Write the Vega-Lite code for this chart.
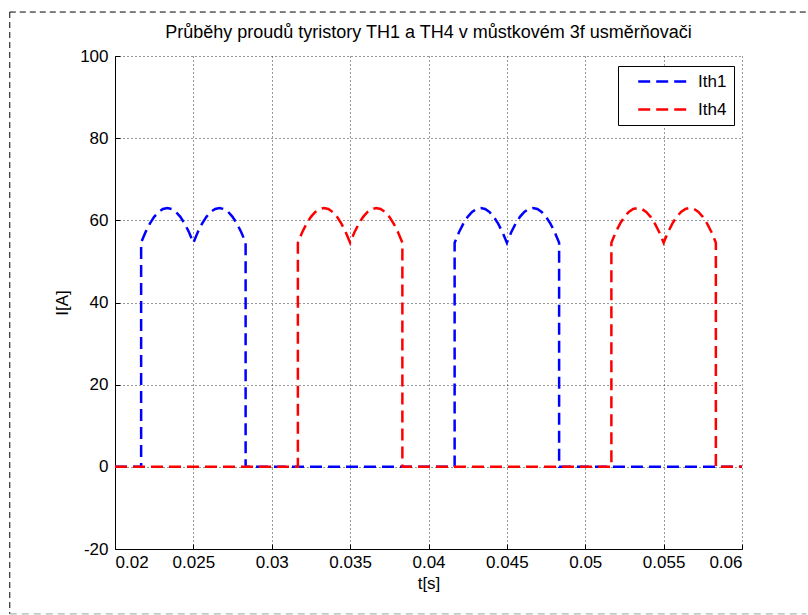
{
  "$schema": "https://vega.github.io/schema/vega-lite/v6.json",
  "width": 627,
  "height": 493,
  "autosize": "none",
  "padding": {"left": 115, "top": 56, "right": 66, "bottom": 66},
  "background": "white",
  "title": {
    "text": "Průběhy proudů tyristory TH1 a TH4 v můstkovém 3f usměrňovači",
    "font": "Liberation Sans",
    "fontSize": 18,
    "fontWeight": "normal",
    "color": "black",
    "anchor": "middle",
    "frame": "group",
    "offset": -30
  },
  "config": {
    "view": {"stroke": null},
    "axis": {
      "labelFont": "Liberation Sans",
      "labelFontSize": 17,
      "labelColor": "black",
      "titleFont": "Liberation Sans",
      "titleFontSize": 17,
      "titleFontWeight": "normal",
      "titleColor": "black",
      "domainColor": "black",
      "domainWidth": 1,
      "tickColor": "black",
      "tickSize": -5,
      "grid": true,
      "gridColor": "#333333",
      "gridOpacity": 1,
      "gridDash": [1, 3],
      "gridWidth": 1
    },
    "legend": {
      "labelFont": "Liberation Sans",
      "labelFontSize": 17,
      "labelColor": "black"
    }
  },
  "layer": [
    {
      "data": {
        "values": [
          {"t": 0.02, "i": 0, "s": "Ith1"},
          {"t": 0.021667, "i": 0, "s": "Ith1"},
          {"t": 0.021667, "i": 54.56, "s": "Ith1"},
          {"t": 0.021944, "i": 57.1, "s": "Ith1"},
          {"t": 0.022222, "i": 59.2, "s": "Ith1"},
          {"t": 0.0225, "i": 60.85, "s": "Ith1"},
          {"t": 0.022778, "i": 62.04, "s": "Ith1"},
          {"t": 0.023056, "i": 62.76, "s": "Ith1"},
          {"t": 0.023333, "i": 63.0, "s": "Ith1"},
          {"t": 0.023611, "i": 62.76, "s": "Ith1"},
          {"t": 0.023889, "i": 62.04, "s": "Ith1"},
          {"t": 0.024167, "i": 60.85, "s": "Ith1"},
          {"t": 0.024444, "i": 59.2, "s": "Ith1"},
          {"t": 0.024722, "i": 57.1, "s": "Ith1"},
          {"t": 0.025, "i": 54.56, "s": "Ith1"},
          {"t": 0.025278, "i": 57.1, "s": "Ith1"},
          {"t": 0.025556, "i": 59.2, "s": "Ith1"},
          {"t": 0.025833, "i": 60.85, "s": "Ith1"},
          {"t": 0.026111, "i": 62.04, "s": "Ith1"},
          {"t": 0.026389, "i": 62.76, "s": "Ith1"},
          {"t": 0.026667, "i": 63.0, "s": "Ith1"},
          {"t": 0.026944, "i": 62.76, "s": "Ith1"},
          {"t": 0.027222, "i": 62.04, "s": "Ith1"},
          {"t": 0.0275, "i": 60.85, "s": "Ith1"},
          {"t": 0.027778, "i": 59.2, "s": "Ith1"},
          {"t": 0.028056, "i": 57.1, "s": "Ith1"},
          {"t": 0.028333, "i": 54.56, "s": "Ith1"},
          {"t": 0.028333, "i": 0, "s": "Ith1"},
          {"t": 0.041667, "i": 0, "s": "Ith1"},
          {"t": 0.041667, "i": 54.56, "s": "Ith1"},
          {"t": 0.041944, "i": 57.1, "s": "Ith1"},
          {"t": 0.042222, "i": 59.2, "s": "Ith1"},
          {"t": 0.0425, "i": 60.85, "s": "Ith1"},
          {"t": 0.042778, "i": 62.04, "s": "Ith1"},
          {"t": 0.043056, "i": 62.76, "s": "Ith1"},
          {"t": 0.043333, "i": 63.0, "s": "Ith1"},
          {"t": 0.043611, "i": 62.76, "s": "Ith1"},
          {"t": 0.043889, "i": 62.04, "s": "Ith1"},
          {"t": 0.044167, "i": 60.85, "s": "Ith1"},
          {"t": 0.044444, "i": 59.2, "s": "Ith1"},
          {"t": 0.044722, "i": 57.1, "s": "Ith1"},
          {"t": 0.045, "i": 54.56, "s": "Ith1"},
          {"t": 0.045278, "i": 57.1, "s": "Ith1"},
          {"t": 0.045556, "i": 59.2, "s": "Ith1"},
          {"t": 0.045833, "i": 60.85, "s": "Ith1"},
          {"t": 0.046111, "i": 62.04, "s": "Ith1"},
          {"t": 0.046389, "i": 62.76, "s": "Ith1"},
          {"t": 0.046667, "i": 63.0, "s": "Ith1"},
          {"t": 0.046944, "i": 62.76, "s": "Ith1"},
          {"t": 0.047222, "i": 62.04, "s": "Ith1"},
          {"t": 0.0475, "i": 60.85, "s": "Ith1"},
          {"t": 0.047778, "i": 59.2, "s": "Ith1"},
          {"t": 0.048056, "i": 57.1, "s": "Ith1"},
          {"t": 0.048333, "i": 54.56, "s": "Ith1"},
          {"t": 0.048333, "i": 0, "s": "Ith1"},
          {"t": 0.06, "i": 0, "s": "Ith1"},

          {"t": 0.02, "i": 0, "s": "Ith4"},
          {"t": 0.031667, "i": 0, "s": "Ith4"},
          {"t": 0.031667, "i": 54.56, "s": "Ith4"},
          {"t": 0.031944, "i": 57.1, "s": "Ith4"},
          {"t": 0.032222, "i": 59.2, "s": "Ith4"},
          {"t": 0.0325, "i": 60.85, "s": "Ith4"},
          {"t": 0.032778, "i": 62.04, "s": "Ith4"},
          {"t": 0.033056, "i": 62.76, "s": "Ith4"},
          {"t": 0.033333, "i": 63.0, "s": "Ith4"},
          {"t": 0.033611, "i": 62.76, "s": "Ith4"},
          {"t": 0.033889, "i": 62.04, "s": "Ith4"},
          {"t": 0.034167, "i": 60.85, "s": "Ith4"},
          {"t": 0.034444, "i": 59.2, "s": "Ith4"},
          {"t": 0.034722, "i": 57.1, "s": "Ith4"},
          {"t": 0.035, "i": 54.56, "s": "Ith4"},
          {"t": 0.035278, "i": 57.1, "s": "Ith4"},
          {"t": 0.035556, "i": 59.2, "s": "Ith4"},
          {"t": 0.035833, "i": 60.85, "s": "Ith4"},
          {"t": 0.036111, "i": 62.04, "s": "Ith4"},
          {"t": 0.036389, "i": 62.76, "s": "Ith4"},
          {"t": 0.036667, "i": 63.0, "s": "Ith4"},
          {"t": 0.036944, "i": 62.76, "s": "Ith4"},
          {"t": 0.037222, "i": 62.04, "s": "Ith4"},
          {"t": 0.0375, "i": 60.85, "s": "Ith4"},
          {"t": 0.037778, "i": 59.2, "s": "Ith4"},
          {"t": 0.038056, "i": 57.1, "s": "Ith4"},
          {"t": 0.038333, "i": 54.56, "s": "Ith4"},
          {"t": 0.038333, "i": 0, "s": "Ith4"},
          {"t": 0.051667, "i": 0, "s": "Ith4"},
          {"t": 0.051667, "i": 54.56, "s": "Ith4"},
          {"t": 0.051944, "i": 57.1, "s": "Ith4"},
          {"t": 0.052222, "i": 59.2, "s": "Ith4"},
          {"t": 0.0525, "i": 60.85, "s": "Ith4"},
          {"t": 0.052778, "i": 62.04, "s": "Ith4"},
          {"t": 0.053056, "i": 62.76, "s": "Ith4"},
          {"t": 0.053333, "i": 63.0, "s": "Ith4"},
          {"t": 0.053611, "i": 62.76, "s": "Ith4"},
          {"t": 0.053889, "i": 62.04, "s": "Ith4"},
          {"t": 0.054167, "i": 60.85, "s": "Ith4"},
          {"t": 0.054444, "i": 59.2, "s": "Ith4"},
          {"t": 0.054722, "i": 57.1, "s": "Ith4"},
          {"t": 0.055, "i": 54.56, "s": "Ith4"},
          {"t": 0.055278, "i": 57.1, "s": "Ith4"},
          {"t": 0.055556, "i": 59.2, "s": "Ith4"},
          {"t": 0.055833, "i": 60.85, "s": "Ith4"},
          {"t": 0.056111, "i": 62.04, "s": "Ith4"},
          {"t": 0.056389, "i": 62.76, "s": "Ith4"},
          {"t": 0.056667, "i": 63.0, "s": "Ith4"},
          {"t": 0.056944, "i": 62.76, "s": "Ith4"},
          {"t": 0.057222, "i": 62.04, "s": "Ith4"},
          {"t": 0.0575, "i": 60.85, "s": "Ith4"},
          {"t": 0.057778, "i": 59.2, "s": "Ith4"},
          {"t": 0.058056, "i": 57.1, "s": "Ith4"},
          {"t": 0.058333, "i": 54.56, "s": "Ith4"},
          {"t": 0.058333, "i": 0, "s": "Ith4"},
          {"t": 0.06, "i": 0, "s": "Ith4"}
        ]
      },
      "mark": {"type": "line", "strokeWidth": 2.5, "strokeDash": [12, 6], "clip": true},
      "encoding": {
        "x": {
          "field": "t",
          "type": "quantitative",
          "title": "t[s]",
          "scale": {"domain": [0.02, 0.06], "nice": false, "zero": false},
          "axis": {
            "values": [0.02, 0.025, 0.03, 0.035, 0.04, 0.045, 0.05, 0.055, 0.06],
            "format": "~g",
            "labelPadding": 10,
            "titlePadding": 5
          }
        },
        "y": {
          "field": "i",
          "type": "quantitative",
          "title": "I[A]",
          "scale": {"domain": [-20, 100], "nice": false, "zero": false},
          "axis": {
            "values": [-20, 0, 20, 40, 60, 80, 100],
            "labelExpr": "datum.value + ''",
            "labelPadding": 12,
            "titlePadding": 8
          }
        },
        "color": {
          "field": "s",
          "type": "nominal",
          "scale": {"domain": ["Ith1", "Ith4"], "range": ["#0000ff", "#ff0000"]},
          "legend": {
            "title": null,
            "orient": "none",
            "legendX": 503,
            "legendY": 10,
            "fillColor": "white",
            "strokeColor": "black",
            "padding": 7,
            "symbolType": "M-1,0H9",
            "symbolSize": 112,
            "symbolStrokeWidth": 2.5,
            "symbolDash": [12, 6],
            "symbolOffset": 10,
            "labelOffset": 46,
            "rowPadding": 10
          }
        },
        "order": {"value": null}
      }
    },
    {
      "data": {"values": [{}]},
      "mark": {"type": "rule", "color": "black", "strokeWidth": 1, "strokeDash": [6, 4], "clip": false},
      "encoding": {
        "x": {"datum": 0.013287, "type": "quantitative"},
        "x2": {"datum": 0.0641},
        "y": {"datum": 110.7, "type": "quantitative"}
      }
    },
    {
      "data": {"values": [{}]},
      "mark": {"type": "rule", "color": "black", "strokeWidth": 1, "strokeDash": [6, 4], "clip": false},
      "encoding": {
        "x": {"datum": 0.013287, "type": "quantitative"},
        "y": {"datum": 110.7, "type": "quantitative"},
        "y2": {"datum": -35.8}
      }
    },
    {
      "data": {"values": [{}]},
      "mark": {"type": "rule", "color": "#a0a0a0", "strokeWidth": 1, "strokeDash": [7, 5], "clip": false},
      "encoding": {
        "x": {"datum": 0.013287, "type": "quantitative"},
        "x2": {"datum": 0.0641},
        "y": {"datum": -35.8, "type": "quantitative"}
      }
    }
  ]
}
